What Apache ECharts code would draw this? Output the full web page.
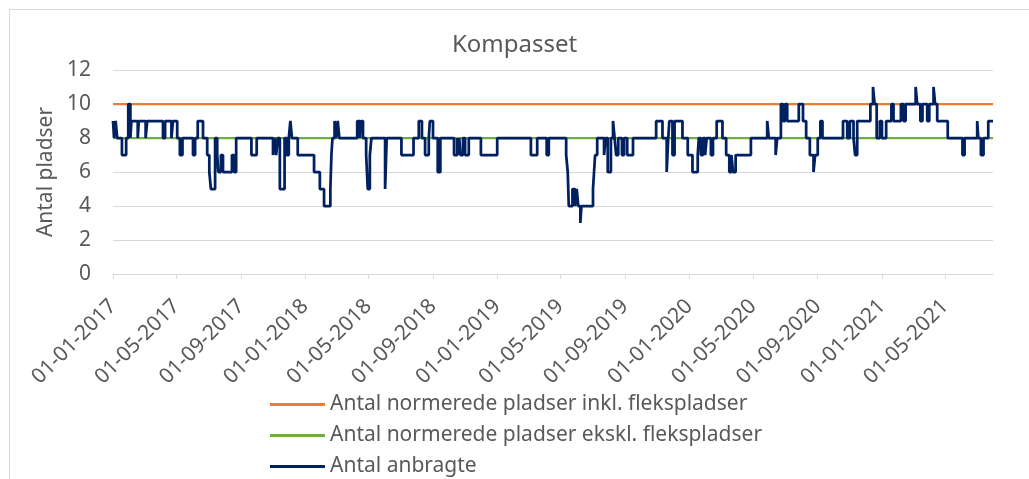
<!DOCTYPE html>
<html>
<head>
<meta charset="utf-8">
<script src="https://cdn.jsdelivr.net/npm/echarts@6/dist/echarts.min.js"></script>
<style>html,body{margin:0;padding:0;background:#fff}#c{width:1029px;height:479px}</style>
</head>
<body>
<div id="c"></div>
<script>
const chartTitle = 'Kompasset';
const yAxisName = 'Antal pladser';
const seriesNames = [
  'Antal normerede pladser inkl. flekspladser',
  'Antal normerede pladser ekskl. flekspladser',
  'Antal anbragte'
];
const tickDates = ['2017-01-01','2017-05-01','2017-09-01','2018-01-01','2018-05-01','2018-09-01',
  '2019-01-01','2019-05-01','2019-09-01','2020-01-01','2020-05-01','2020-09-01','2021-01-01','2021-05-01'];
const xStart = '2017-01-01';
const xEnd = '2021-07-31';
const normInkl = 10;
const normEkskl = 8;

const dates = [
  '2017-01-01','2017-01-03','2017-01-06','2017-01-09','2017-01-18','2017-01-26','2017-01-30','2017-02-03','2017-02-05','2017-02-17',
  '2017-02-19','2017-03-04','2017-03-07','2017-04-06','2017-04-10','2017-04-22','2017-04-25','2017-05-03','2017-05-08','2017-05-13',
  '2017-06-02','2017-06-06','2017-06-11','2017-06-21','2017-06-29','2017-07-03','2017-07-06','2017-07-14','2017-07-18','2017-07-20',
  '2017-07-25','2017-07-29','2017-08-15','2017-08-19','2017-08-23','2017-09-21','2017-10-01','2017-11-01','2017-11-04','2017-11-07',
  '2017-11-10','2017-11-14','2017-11-23','2017-11-27','2017-12-01','2017-12-04','2017-12-07','2017-12-18',
  '2018-01-18','2018-01-29','2018-02-06','2018-02-18','2018-02-20','2018-02-22','2018-02-26','2018-03-01','2018-03-04','2018-03-07',
  '2018-04-10','2018-04-15','2018-04-17','2018-04-21','2018-04-27','2018-04-30','2018-05-04','2018-05-07','2018-06-02','2018-06-05',
  '2018-07-03','2018-07-26','2018-08-05','2018-08-11','2018-08-17','2018-08-24','2018-08-26','2018-09-01','2018-09-10','2018-09-15',
  '2018-10-11','2018-10-17','2018-10-19','2018-10-21','2018-10-23','2018-10-28','2018-11-01','2018-11-08','2018-12-01',
  '2019-01-01','2019-03-06','2019-03-18','2019-04-05','2019-04-09','2019-05-12','2019-05-15','2019-05-17','2019-05-24','2019-05-29',
  '2019-06-01','2019-06-04','2019-06-08','2019-06-10','2019-07-02','2019-07-04','2019-07-06','2019-07-10','2019-07-23','2019-07-26',
  '2019-07-30','2019-08-05','2019-08-09','2019-08-12','2019-08-15','2019-08-19','2019-08-26','2019-08-30','2019-09-05','2019-09-16',
  '2019-10-30','2019-11-11','2019-11-19','2019-11-22','2019-11-24','2019-11-30','2019-12-04','2019-12-19','2019-12-29',
  '2020-01-07','2020-01-17','2020-01-19','2020-01-23','2020-01-27','2020-01-31','2020-02-03','2020-02-11','2020-02-15','2020-02-22',
  '2020-03-04','2020-03-11','2020-03-17','2020-03-21','2020-03-24','2020-03-29','2020-04-27','2020-05-28','2020-05-31','2020-06-13',
  '2020-06-16','2020-06-23','2020-06-27','2020-07-01','2020-07-05','2020-07-27','2020-08-04','2020-08-10','2020-08-17','2020-08-24',
  '2020-08-27','2020-09-01','2020-09-06','2020-09-10','2020-10-19','2020-10-27','2020-11-01','2020-11-08','2020-11-11','2020-11-15',
  '2020-12-10','2020-12-15','2020-12-18','2020-12-22','2020-12-28',
  '2021-01-01','2021-01-09','2021-01-19','2021-01-23','2021-02-06','2021-02-11','2021-02-15','2021-03-06','2021-03-09','2021-03-15',
  '2021-03-19','2021-03-28','2021-04-01','2021-04-09','2021-04-12','2021-04-16','2021-05-06','2021-06-03','2021-06-07','2021-07-01',
  '2021-07-03','2021-07-08','2021-07-13','2021-07-22','2021-07-31'
];
const anbragte = [
  9,8,9,8,7,8,10,8,9,8,
  9,8,9,8,9,8,9,8,7,8,
  7,8,9,8,7,6,5,8,7,6,
  7,6,7,6,8,7,8,7,8,7,
  8,5,8,7,8,9,8,7,
  6,5,4,5,7,8,9,8,9,8,
  9,8,9,8,7,5,7,8,5,8,
  7,8,9,8,7,8,9,8,6,8,
  7,8,7,8,7,8,7,8,7,
  8,7,8,7,8,7,6,4,5,4,
  5,4,3,4,5,6,7,8,7,8,
  6,8,9,8,7,8,7,8,7,8,
  9,8,6,8,9,7,9,8,7,
  6,7,8,7,8,7,8,7,8,9,
  8,7,6,7,6,7,8,9,8,7,
  8,10,9,10,9,10,9,8,7,6,
  7,8,9,8,9,8,9,8,7,9,
  10,11,10,8,9,
  8,9,10,9,10,9,10,11,10,9,
  10,9,10,11,10,9,8,7,8,9,
  8,7,8,9,9
];

function ts(s) { const p = s.split('-'); return Date.UTC(+p[0], +p[1] - 1, +p[2]); }
function pad(n) { return (n < 10 ? '0' : '') + n; }
function fmt(v) { const d = new Date(Math.round(v)); return pad(d.getUTCDate()) + '-' + pad(d.getUTCMonth() + 1) + '-' + d.getUTCFullYear(); }

const FONT = 'Noto Sans';
const TXT = '#595959';
const tickVals = tickDates.map(ts);

const chart = echarts.init(document.getElementById('c'), null, { renderer: 'canvas' });
chart.setOption({
  animation: false,
  backgroundColor: '#ffffff',
  title: {
    text: chartTitle, left: 'center', top: 33, padding: 0,
    textStyle: { fontFamily: FONT, fontSize: 24, fontWeight: 'normal', color: TXT }
  },
  graphic: [{
    type: 'rect', silent: true, z: -10,
    shape: { x: 9.5, y: 9.5, width: 1100, height: 600 },
    style: { fill: null, stroke: '#d9d9d9', lineWidth: 1 }
  }],
  legend: {
    orient: 'vertical', left: 270, top: 394, padding: 0,
    icon: 'rect', itemWidth: 55, itemHeight: 3, itemGap: 10, selectedMode: false,
    data: seriesNames,
    textStyle: { fontFamily: FONT, fontSize: 21, color: TXT }
  },
  grid: { left: 113, right: 36, top: 70, bottom: 205 },
  xAxis: {
    type: 'value', min: ts(xStart), max: ts(xEnd), scale: true,
    axisLine: { show: true, lineStyle: { color: '#d9d9d9', width: 1 } },
    axisTick: { show: true, customValues: tickVals, length: 5, lineStyle: { color: '#d9d9d9' } },
    axisLabel: {
      customValues: tickVals, rotate: 45, margin: 29, formatter: fmt, hideOverlap: false,
      fontFamily: FONT, fontSize: 21, color: TXT
    },
    splitLine: { show: false }
  },
  yAxis: {
    type: 'value', min: 0, max: 12, interval: 2,
    name: yAxisName, nameLocation: 'middle', nameRotate: 90, nameGap: 54,
    nameTextStyle: { fontFamily: FONT, fontSize: 21, color: TXT },
    axisLine: { show: false }, axisTick: { show: false },
    axisLabel: { margin: 22, fontFamily: FONT, fontSize: 21, color: TXT },
    splitLine: { lineStyle: { color: '#d9d9d9', width: 1 } }
  },
  series: [
    {
      name: seriesNames[0], type: 'line', symbol: 'none', silent: true,
      data: [[ts(xStart), normInkl], [ts(xEnd), normInkl]],
      lineStyle: { color: '#ED7D31', width: 2.25 }, itemStyle: { color: '#ED7D31' }
    },
    {
      name: seriesNames[1], type: 'line', symbol: 'none', silent: true,
      data: [[ts(xStart), normEkskl], [ts(xEnd), normEkskl]],
      lineStyle: { color: '#70AD47', width: 2.25 }, itemStyle: { color: '#70AD47' }
    },
    {
      name: seriesNames[2], type: 'line', symbol: 'none', silent: true, step: 'end',
      data: dates.map((d, i) => [ts(d), anbragte[i]]),
      lineStyle: { color: '#002060', width: 2.75 }, itemStyle: { color: '#002060' }
    }
  ]
});
</script>
</body>
</html>
